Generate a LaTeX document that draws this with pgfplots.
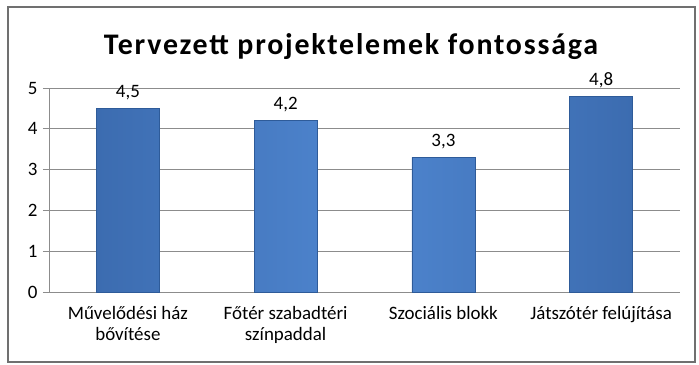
\documentclass[border=0pt]{standalone}
\usepackage{fontspec}
\setmainfont{Carlito}
\usepackage{pgfplots}
\pgfplotsset{compat=1.18}
\definecolor{barmid}{HTML}{4F86D0}
\definecolor{baredge}{HTML}{2E5B99}
\definecolor{barside}{HTML}{3C6CB0}
\definecolor{gridc}{HTML}{8C8C8C}
\begin{document}
\begin{tikzpicture}[x=1bp,y=1bp]
\path[use as bounding box] (0,0) rectangle (699,364);
\draw[gridc!80!black, line width=1.2bp] (8,2) rectangle (695,357);
\node[font=\fontsize{30}{33}\selectfont\bfseries\addfontfeature{LetterSpace=6}] at (351,317) {Tervezett projektelemek fontossága};
\begin{axis}[
  at={(49bp,72bp)}, anchor=south west,
  scale only axis, width=631bp, height=204bp,
  xmin=-0.5, xmax=3.5, ymin=0, ymax=5,
  ytick={0,1,2,3,4,5},
  xtick={0,1,2,3},
  xticklabels={{Művelődési ház\\bővítése},{Főtér szabadtéri\\színpaddal},{Szociális blokk},{Játszótér felújítása}},
  xticklabel style={align=center, font=\fontsize{19}{21}\selectfont, yshift=-5bp},
  yticklabel style={font=\fontsize{19}{21}\selectfont, xshift=-2bp},
  /pgf/number format/assume math mode=true,
  ymajorgrids, grid style={gridc, line width=0.8bp},
  axis x line*=bottom, axis y line*=left,
  axis line style={gridc, line width=0.8bp},
  x axis line style={-}, y axis line style={-},
  major x tick style={draw=none},
  major y tick style={gridc, line width=0.8bp},
  tick align=outside, major tick length=6bp,
  ybar, bar width=63bp,
  nodes near coords,
  every node near coord/.append style={font=\fontsize{19}{21}\selectfont, yshift=5bp,
    /pgf/number format/.cd, use comma, fixed, fixed zerofill, precision=1, assume math mode=true},
  clip=false,
]
\addplot[draw=baredge, line width=0.6bp, left color=barside, right color=barside, middle color=barmid] coordinates {(0,4.5) (1,4.2) (2,3.3) (3,4.8)};
\end{axis}
\end{tikzpicture}
\end{document}
